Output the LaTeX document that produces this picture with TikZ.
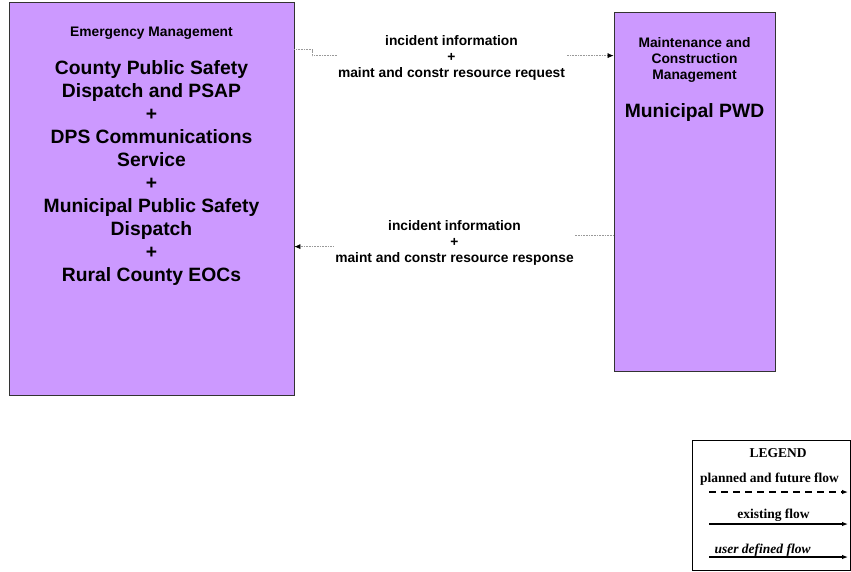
\documentclass[tikz,border=0pt]{standalone}
\usepackage{fontspec}
\setmainfont{Liberation Sans}
\newfontfamily\legendfont{Liberation Serif}
\usetikzlibrary{arrows.meta}
\definecolor{boxpurple}{HTML}{CC99FF}
\definecolor{flowgray}{HTML}{999999}

\begin{document}
\begin{tikzpicture}[x=1pt, y=-1pt,
    sysbox/.style={draw=black!80, fill=boxpurple, line width=0.8pt},
    head/.style={font=\fontsize{13.8}{16}\selectfont\bfseries, align=center, inner sep=0pt},
    big/.style={font=\fontsize{19.3}{23}\selectfont\bfseries, align=center, inner sep=0pt},
    flowlabel/.style={head, fill=white, inner xsep=1.5pt, inner ysep=1pt},
    flow/.style={draw=flowgray, densely dotted, line width=0.6pt, -{Latex[black,length=6pt,width=5pt]}},
    legtext/.style={font=\legendfont\fontsize{13.5}{15}\selectfont\bfseries, inner sep=0pt},
    legarrow/.style={line width=1.1pt, -{Latex[length=6pt,width=4.5pt]}}]
    \useasboundingbox (0,0) rectangle (851,571);

    % Main boxes
    \node[sysbox, minimum width=285, minimum height=393] (em) at (151.5,198.5) {};
    \node[sysbox, minimum width=161, minimum height=359] (pwd) at (694.5,191.5) {};
    \node[head] (emhead) at (151.5,33) {Emergency Management};
    \node[big] (emname) at (151.5,173.5) {County Public Safety\\Dispatch and PSAP\\+\\DPS Communications\\Service\\+\\Municipal Public Safety\\Dispatch\\+\\Rural County EOCs};
    \node[head] (pwdhead) at (694.5,60) {Maintenance and\\Construction\\Management};
    \node[big] (pwdname) at (694.5,112.5) {Municipal PWD};

    % Flows
    \draw[flow] ([yshift=-48pt]em.north east) -- ++(18,0) |- ([yshift=-44pt]pwd.north west);
    \node[flowlabel] (req) at (451.5,58) {incident information\\+\\maint and constr resource request};
    \draw[flow] ([yshift=-224pt]pwd.north west) -- ++(-160,0) |- ([yshift=-245pt]em.north east);
    \node[flowlabel] (resp) at (454.5,243) {incident information\\+\\maint and constr resource response};

    % Legend
    \node[draw, line width=1pt, minimum width=158, minimum height=130] (legend) at (771,505) {};
    \node[legtext] (legtitle) at (778,453) {LEGEND};
    \node[legtext] (planned) at (769.5,479) {planned and future flow};
    \node[legtext] (existing) at (773.5,515) {existing flow};
    \node[legtext, font=\legendfont\fontsize{13.5}{15}\selectfont\bfseries\itshape] (userdef) at (762.5,550) {user defined flow};
    \coordinate (pa) at (709,492);
    \coordinate (pb) at (848,492);
    \coordinate (ea) at (709,524);
    \coordinate (eb) at (848,524);
    \coordinate (ua) at (709,557);
    \coordinate (ub) at (848,557);
    \draw[legarrow, dash pattern=on 7pt off 5pt] (pa) -- (pb);
    \draw[legarrow] (ea) -- (eb);
    \draw[legarrow] (ua) -- (ub);
\end{tikzpicture}
\end{document}
